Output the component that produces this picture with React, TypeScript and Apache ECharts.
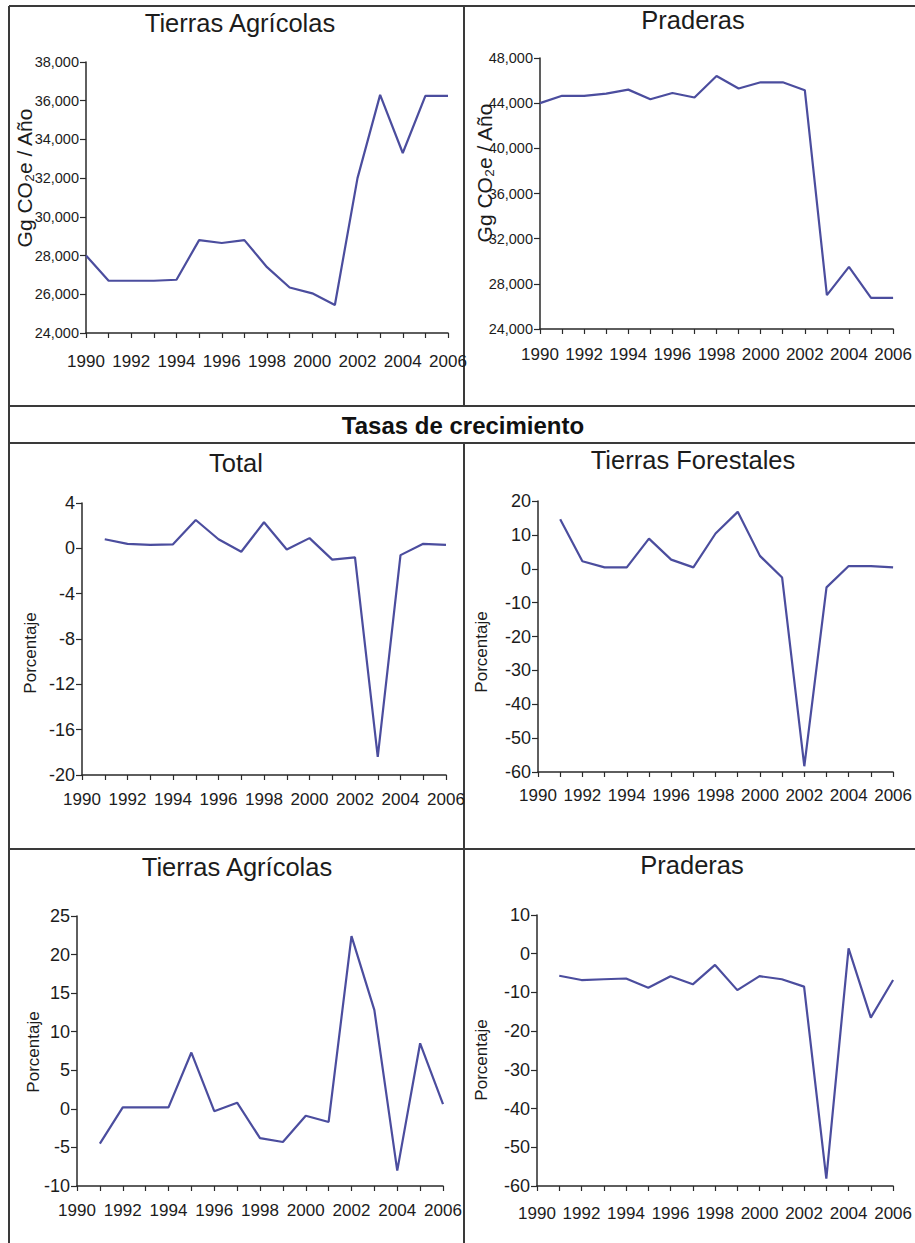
import React, { useEffect, useRef } from "react";
import * as echarts from "echarts";

// ---- Data ----
const yearsLevel = [1990, 1991, 1992, 1993, 1994, 1995, 1996, 1997, 1998, 1999, 2000, 2001, 2002, 2003, 2004, 2005, 2006];
const yearsRate = [1991, 1992, 1993, 1994, 1995, 1996, 1997, 1998, 1999, 2000, 2001, 2002, 2003, 2004, 2005, 2006];

const agricLevel = [28000, 26700, 26700, 26700, 26750, 28800, 28650, 28800, 27400, 26350, 26050, 25450, 32000, 36300, 33300, 36250, 36250];
const praderasLevel = [44000, 44650, 44650, 44850, 45200, 44350, 44900, 44500, 46400, 45300, 45850, 45850, 45150, 27000, 29500, 26750, 26750];

const totalRate = [0.8, 0.4, 0.3, 0.35, 2.5, 0.8, -0.3, 2.3, -0.1, 0.9, -1.0, -0.8, -18.4, -0.6, 0.4, 0.3];
const forestRate = [14.6, 2.2, 0.4, 0.4, 8.9, 2.7, 0.4, 10.4, 16.8, 3.8, -2.6, -58.3, -5.5, 0.8, 0.8, 0.4];
const agricRate = [-4.5, 0.2, 0.2, 0.2, 7.3, -0.3, 0.8, -3.8, -4.3, -0.9, -1.7, 22.4, 12.8, -8.0, 8.5, 0.6];
const praderasRate = [-5.7, -6.8, -6.6, -6.4, -8.8, -5.8, -7.9, -2.9, -9.4, -5.8, -6.6, -8.5, -58.1, 1.4, -16.5, -6.8];

const panelTitles = ["Tierras Agrícolas", "Praderas", "Total", "Tierras Forestales", "Tierras Agrícolas", "Praderas"];
const bandTitle = "Tasas de crecimiento";
const levelAxisName = "Gg CO₂e / Año";
const rateAxisName = "Porcentaje";

const FONT = "'Liberation Sans', Arial, sans-serif";
const LINE_COLOR = "#4b4d9e";
const AXIS_COLOR = "#2a2a2a";
const TEXT_COLOR = "#1c1c1c";
const FRAME_COLOR = "#3a3a3a";

const commaFmt = (v: number) => v.toLocaleString("en-US");
const plainFmt = (v: number) => String(v);

const panels = [
  { grid: { left: 86, top: 62, width: 362, height: 271 }, min: 24000, max: 38000, interval: 2000, years: yearsLevel, values: agricLevel, fmt: commaFmt, ySize: 14.5, xMargin: 19.5, title: [240, 25], name: levelAxisName, nameAt: [24, 178], nameSize: 21 },
  { grid: { left: 540, top: 58, width: 364, height: 271 }, min: 24000, max: 48000, interval: 4000, years: yearsLevel, values: praderasLevel, fmt: commaFmt, ySize: 14.5, xMargin: 17, title: [693, 22], name: levelAxisName, nameAt: [484, 173], nameSize: 21 },
  { grid: { left: 82, top: 503, width: 364, height: 272 }, min: -20, max: 4, interval: 4, years: yearsRate, values: totalRate, fmt: plainFmt, ySize: 18, xMargin: 16, title: [236, 465], name: rateAxisName, nameAt: [30, 653], nameSize: 17 },
  { grid: { left: 538, top: 501, width: 365, height: 271 }, min: -60, max: 20, interval: 10, years: yearsRate, values: forestRate, fmt: plainFmt, ySize: 18, xMargin: 15, title: [693, 462], name: rateAxisName, nameAt: [481, 652], nameSize: 17 },
  { grid: { left: 77, top: 916, width: 366, height: 270 }, min: -10, max: 25, interval: 5, years: yearsRate, values: agricRate, fmt: plainFmt, ySize: 18, xMargin: 16, title: [237, 869], name: rateAxisName, nameAt: [33, 1052], nameSize: 17 },
  { grid: { left: 537, top: 915, width: 366, height: 271 }, min: -60, max: 10, interval: 10, years: yearsRate, values: praderasRate, fmt: plainFmt, ySize: 18, xMargin: 19, title: [692, 867], name: rateAxisName, nameAt: [481, 1060], nameSize: 17 },
];

function frameLine(x1: number, y1: number, x2: number, y2: number) {
  return {
    type: "line",
    shape: { x1, y1, x2, y2 },
    style: { stroke: FRAME_COLOR, lineWidth: 2 },
    silent: true,
  };
}

export default function App() {
  const ref = useRef<HTMLDivElement>(null);

  useEffect(() => {
    if (!ref.current) return;
    const chart = echarts.init(ref.current, undefined, { renderer: "svg" });

    const grid = panels.map((p) => ({ ...p.grid, containLabel: false }));
    const xAxis = panels.map((p, i) => ({
      type: "value",
      gridIndex: i,
      min: 1990,
      max: 2006,
      interval: 1,
      axisLine: { show: true, onZero: false, lineStyle: { color: AXIS_COLOR, width: 1.5 } },
      axisTick: { show: true, inside: false, length: 5, lineStyle: { color: AXIS_COLOR, width: 1.2 } },
      axisLabel: {
        formatter: (v: number) => (v % 2 === 0 ? String(v) : ""),
        fontFamily: FONT,
        fontSize: 17,
        color: TEXT_COLOR,
        margin: p.xMargin,
        showMinLabel: true,
        showMaxLabel: true,
        hideOverlap: false,
      },
      splitLine: { show: false },
    }));
    const yAxis = panels.map((p, i) => ({
      type: "value",
      gridIndex: i,
      min: p.min,
      max: p.max,
      interval: p.interval,
      axisLine: { show: true, onZero: false, lineStyle: { color: AXIS_COLOR, width: 1.5 } },
      axisTick: { show: true, inside: false, length: 6, lineStyle: { color: AXIS_COLOR, width: 1.2 } },
      axisLabel: {
        formatter: p.fmt,
        fontFamily: FONT,
        fontSize: p.ySize,
        color: TEXT_COLOR,
        margin: 7,
      },
      splitLine: { show: false },
    }));
    const series = panels.map((p, i) => ({
      type: "line",
      xAxisIndex: i,
      yAxisIndex: i,
      data: p.years.map((yr, k) => [yr, p.values[k]]),
      symbol: "none",
      lineStyle: { color: LINE_COLOR, width: 2.2 },
      silent: true,
    }));

    const title = panels.map((p, i) => ({
      text: panelTitles[i],
      left: p.title[0],
      top: p.title[1] - 15,
      textAlign: "center",
      padding: 0,
      textStyle: { fontFamily: FONT, fontSize: 25.5, fontWeight: "normal", color: TEXT_COLOR },
    }));

    const graphic: any[] = [
      frameLine(9, 6, 915, 6),
      frameLine(9, 6, 9, 1243),
      frameLine(464, 6, 464, 406),
      frameLine(464, 443, 464, 1243),
      frameLine(9, 406, 915, 406),
      frameLine(9, 443, 915, 443),
      frameLine(9, 849, 915, 849),
      {
        type: "text",
        x: 463,
        y: 425,
        style: {
          text: bandTitle,
          fontFamily: FONT,
          fontSize: 24,
          fontWeight: "bold",
          fill: "#111",
          align: "center",
          verticalAlign: "middle",
        },
        silent: true,
      },
      ...panels.map((p) => ({
        type: "text",
        x: p.nameAt[0],
        y: p.nameAt[1],
        rotation: Math.PI / 2,
        style: {
          text: p.name,
          fontFamily: FONT,
          fontSize: p.nameSize,
          fill: TEXT_COLOR,
          align: "center",
          verticalAlign: "middle",
        },
        silent: true,
      })),
    ];

    chart.setOption({
      animation: false,
      backgroundColor: "#ffffff",
      title,
      grid,
      xAxis,
      yAxis,
      series,
      graphic,
    });

    return () => chart.dispose();
  }, []);

  return (
    <div
      ref={ref}
      style={{ position: "absolute", left: 0, top: 0, width: 915, height: 1243, background: "#fff" }}
    />
  );
}
